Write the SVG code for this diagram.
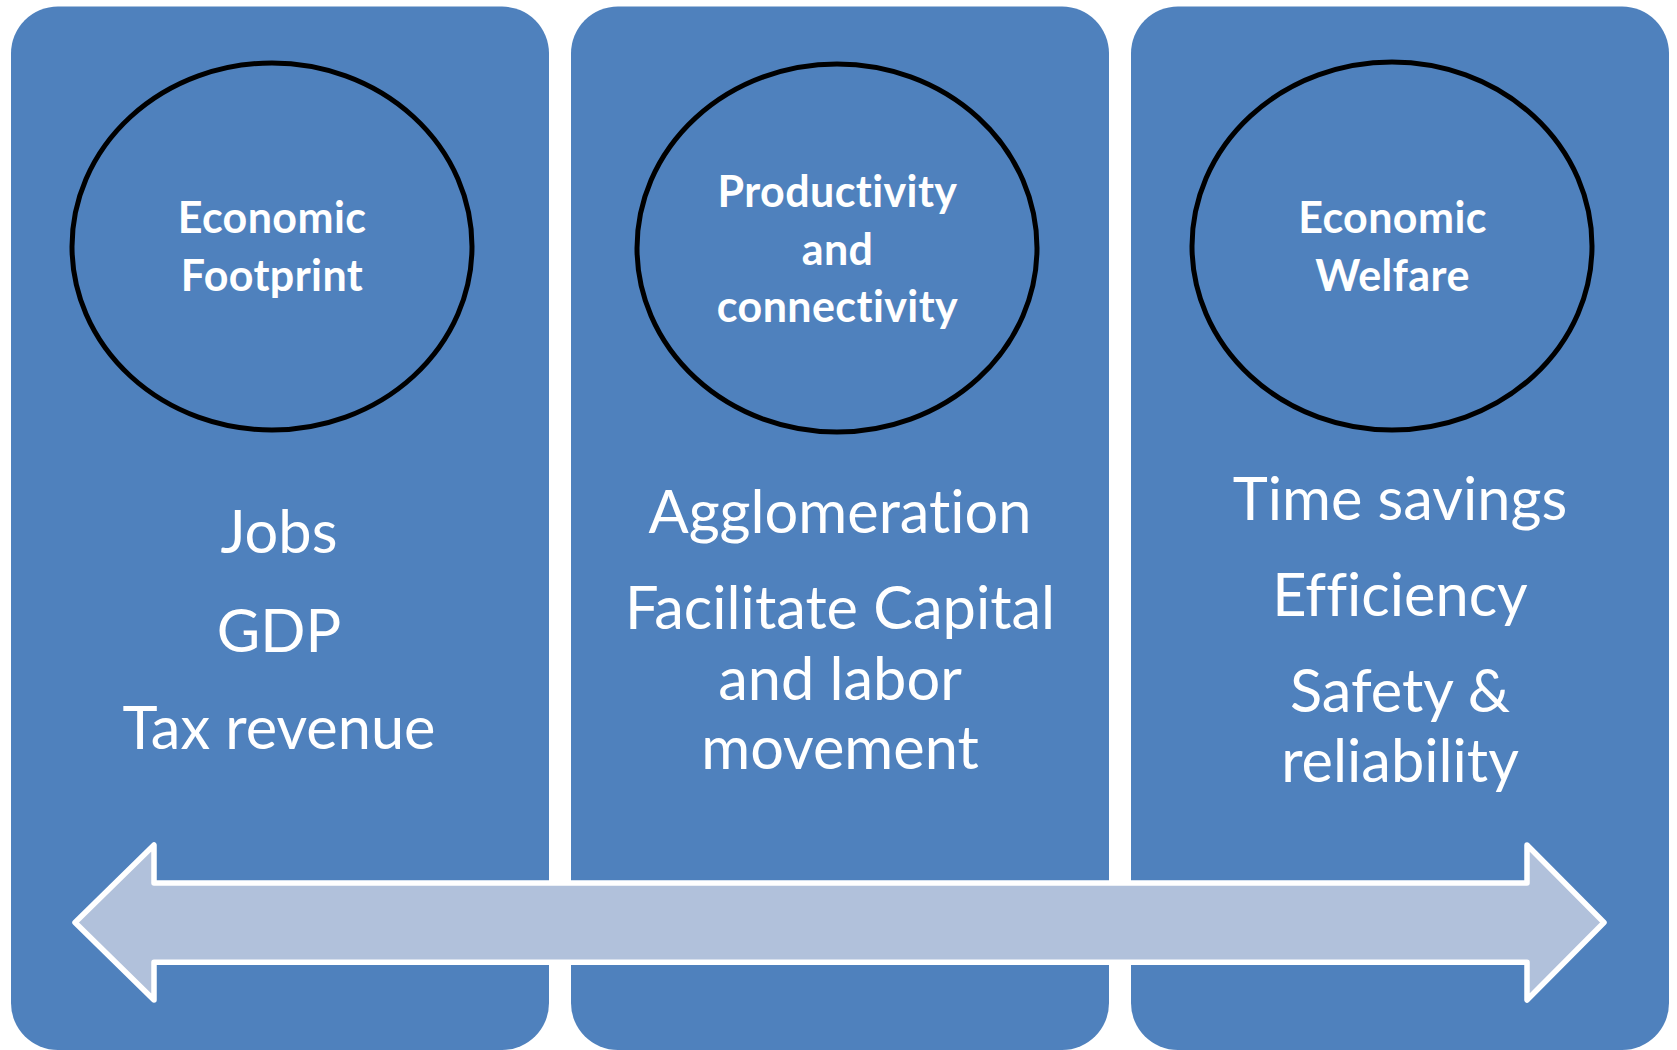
<svg xmlns="http://www.w3.org/2000/svg" width="1677" height="1050" viewBox="0 0 1677 1050">
  <style>
    .panel { fill: #4F81BD; }
    .ring { fill: none; stroke: #000000; stroke-width: 5; }
    text { font-variant-ligatures: none; font-feature-settings: "liga" 0, "clig" 0; }
    .title { font-family: Lato, "Open Sans", "Liberation Sans", sans-serif; font-weight: 700; font-size: 43px; letter-spacing: 0.4px; fill: #FFFFFF; text-anchor: middle; }
    .item { font-family: Lato, "Open Sans", "Liberation Sans", sans-serif; font-weight: 400; font-size: 59.5px; fill: #FFFFFF; text-anchor: middle; }
    .arrow { fill: #B1C1DB; stroke: #FFFFFF; stroke-width: 5.5; stroke-linejoin: round; }
  </style>
  <rect x="0" y="0" width="1677" height="1050" fill="#FFFFFF"/>

  <!-- Column 1: Economic Footprint -->
  <g id="economic-footprint">
    <rect class="panel" x="11" y="6.5" width="538" height="1043.5" rx="47" ry="47"/>
    <ellipse class="ring" cx="272" cy="246.5" rx="200" ry="183.5"/>
    <text class="title" x="272" y="232.7">Economic</text>
    <text class="title" x="272" y="291">Footprint</text>
    <text class="item" x="279" y="553.3">Jobs</text>
    <text class="item" x="279" y="652.3">GDP</text>
    <text class="item" x="279" y="748.7">Tax revenue</text>
  </g>

  <!-- Column 2: Productivity and connectivity -->
  <g id="productivity-connectivity">
    <rect class="panel" x="571" y="6.5" width="538" height="1043.5" rx="47" ry="47"/>
    <ellipse class="ring" cx="837" cy="248" rx="200" ry="184"/>
    <text class="title" x="837.5" y="206.7">Productivity</text>
    <text class="title" x="837.5" y="264.5">and</text>
    <text class="title" x="837.5" y="321.5">connectivity</text>
    <text class="item" x="840" y="532.7">Agglomeration</text>
    <text class="item" x="840" y="629.3">Facilitate Capital</text>
    <text class="item" x="840" y="700">and labor</text>
    <text class="item" x="840" y="769">movement</text>
  </g>

  <!-- Column 3: Economic Welfare -->
  <g id="economic-welfare">
    <rect class="panel" x="1131" y="6.5" width="538" height="1043.5" rx="47" ry="47"/>
    <ellipse class="ring" cx="1392" cy="246" rx="200" ry="184"/>
    <text class="title" x="1392.5" y="232.7">Economic</text>
    <text class="title" x="1392.5" y="291">Welfare</text>
    <text class="item" x="1400" y="520">Time savings</text>
    <text class="item" x="1400" y="615.7">Efficiency</text>
    <text class="item" x="1400" y="712.3">Safety &amp;</text>
    <text class="item" x="1400" y="782.3">reliability</text>
  </g>

  <!-- Double-headed arrow spanning all three columns -->
  <g id="connectors">
    <path class="arrow" d="M75,922.5 L154,845 L154,883 L1527,883 L1527,845 L1604,922.5 L1527,1000 L1527,962.3 L154,962.3 L154,1000 Z"/>
  </g>
</svg>
